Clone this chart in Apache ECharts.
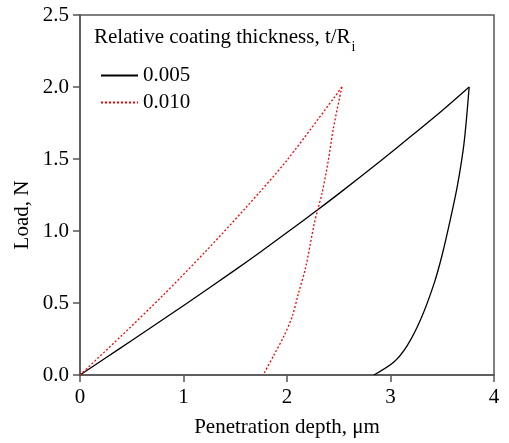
<!DOCTYPE html>
<html>
<head>
<meta charset="utf-8">
<script src="https://cdn.jsdelivr.net/npm/echarts@6/dist/echarts.min.js"></script>
<style>html,body{margin:0;padding:0;background:#fff}#c{width:509px;height:443px}</style>
</head>
<body>
<div id="c"></div>
<script>
var seriesNames = ['0.005', '0.010'];
var xTicks = [0, 1, 2, 3, 4];
var yTicks = [0.0, 0.5, 1.0, 1.5, 2.0, 2.5];
// t/Ri = 0.005 (depth um, load N)
var thinLoad = [
  [0,0],[0.25,0.12],[0.5,0.24],[1.03,0.497],[1.5,0.73],[1.71,0.837],[2.0,0.989],
  [2.29,1.144],[2.52,1.27],[2.90,1.485],[3.2,1.659],[3.5,1.837],[3.76,2.0]
];
var thinUnload = [
  [3.76,2.0],[3.71,1.607],[3.646,1.313],[3.58,1.086],[3.50,0.837],[3.42,0.633],[3.29,0.383],
  [3.16,0.202],[3.03,0.088],[2.84,0]
];
// t/Ri = 0.010
var thickLoad = [
  [0,0],[0.4,0.272],[0.8,0.552],[1.2,0.848],[1.6,1.16],[2.0,1.492],[2.53,2.0]
];
var thickUnload = [
  [2.53,2.0],[2.45,1.72],[2.40,1.494],[2.34,1.267],[2.29,1.13],[2.26,1.04],[2.18,0.746],
  [2.11,0.565],[2.05,0.406],[1.97,0.27],[1.87,0.134],[1.77,0]
];

var FONT = 'Liberation Serif';
var blackLine = {color: '#000', width: 1.3, type: 'solid'};
var redLine = {color: '#ff0000', width: 1.3, type: [2, 2]};
function mk(name, data, ls, smooth) {
  return {name: name, type: 'line', data: data, symbol: 'none', smooth: smooth,
    lineStyle: ls, itemStyle: {color: ls.color}};
}
var chart = echarts.init(document.getElementById('c'), null, {renderer: 'canvas'});
chart.setOption({
  animation: false,
  backgroundColor: '#fff',
  grid: {left: 80, right: 15, top: 15, bottom: 60, show: true, borderColor: '#555', borderWidth: 1.5, backgroundColor: 'transparent'},
  xAxis: {
    type: 'value', min: xTicks[0], max: xTicks[xTicks.length-1], interval: 1,
    axisLine: {show: true, lineStyle: {color: '#555', width: 1.5}},
    axisTick: {show: true, length: 7, lineStyle: {color: '#555', width: 1.5}},
    splitLine: {show: false},
    axisLabel: {color: '#000', fontFamily: FONT, fontSize: 21, margin: 12},
    name: 'Penetration depth, μm', nameLocation: 'middle', nameGap: 42,
    nameTextStyle: {color: '#000', fontFamily: FONT, fontSize: 21}
  },
  yAxis: {
    type: 'value', min: yTicks[0], max: yTicks[yTicks.length-1], interval: 0.5,
    axisLine: {show: true, lineStyle: {color: '#555', width: 1.5}},
    axisTick: {show: true, length: 7, lineStyle: {color: '#555', width: 1.5}},
    splitLine: {show: false},
    axisLabel: {color: '#000', fontFamily: FONT, fontSize: 21, margin: 11,
      formatter: function(v){ return v.toFixed(1); }}
  },
  legend: {
    orient: 'vertical', left: 95, top: 60,
    itemWidth: 37, itemHeight: 14, itemGap: 6,
    itemStyle: {opacity: 0},
    textStyle: {color: '#000', fontFamily: FONT, fontSize: 21, lineHeight: 19},
    data: seriesNames
  },
  graphic: [
    {type: 'text', left: 94, top: 27, style: {
      text: '{a|Relative coating thickness, t/R}{b|i}',
      rich: {
        a: {fontFamily: FONT, fontSize: 21, fill: '#000', lineHeight: 24, verticalAlign: 'bottom'},
        b: {fontFamily: FONT, fontSize: 14, fill: '#000', lineHeight: 24, verticalAlign: 'bottom', padding: [0,0,-6,1]}
      }
    }},
    {type: 'text', x: 22, y: 215, rotation: Math.PI/2, style: {
      text: 'Load, N', fontFamily: FONT, fontSize: 21, fill: '#000', align: 'center', verticalAlign: 'middle'
    }}
  ],
  series: [
    mk(seriesNames[0], thinLoad, blackLine, 0.3),
    mk(seriesNames[0], thinUnload, blackLine, 0.3),
    mk(seriesNames[1], thickLoad, redLine, 0.3),
    mk(seriesNames[1], thickUnload, redLine, 0.3)
  ]
});
</script>
</body>
</html>
